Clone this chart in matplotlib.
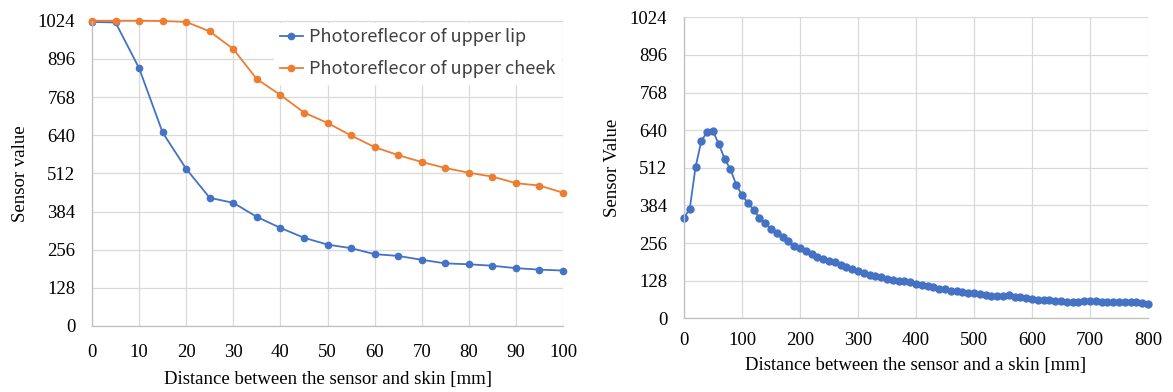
import matplotlib
matplotlib.use("Agg")
import matplotlib.pyplot as plt

# ---------------------------------------------------------------------------
# Data
# ---------------------------------------------------------------------------

dist_left = [0, 5, 10, 15, 20, 25, 30, 35, 40, 45, 50,
             55, 60, 65, 70, 75, 80, 85, 90, 95, 100]
upper_lip = [1020, 1018, 865, 649, 527, 430, 413, 366, 329, 296, 273,
             261, 241, 235, 222, 210, 207, 202, 194, 189, 186]
upper_cheek = [1024, 1024, 1024, 1023, 1020, 988, 929, 828, 775, 716, 681,
               639, 600, 573, 550, 530, 514, 501, 479, 471, 447]

dist_right = list(range(0, 801, 10))
sensor_right = [342, 373, 515, 604, 634, 636, 593, 543, 507, 455,
                419, 393, 369, 342, 323, 305, 289, 275, 263, 246,
                239, 229, 219, 207, 202, 195, 191, 180, 176, 167,
                160, 153, 147, 144, 139, 134, 130, 128, 126, 123,
                116, 114, 110, 105, 101, 100, 94, 93, 90, 86,
                85, 83, 79, 77, 76, 76, 79, 74, 71, 68,
                65, 62, 62, 61, 60, 58, 56, 56, 57, 59,
                60, 58, 56, 56, 54, 56, 57, 56, 56, 53,
                50]

y_ticks = [0, 128, 256, 384, 512, 640, 768, 896, 1024]

BLUE = "#4472C4"
ORANGE = "#ED7D31"
GRID = "#D9D9D9"
SERIF = "Liberation Serif"
SANS = ["Noto Sans CJK JP", "DejaVu Sans"]


def _style(ax, xlim, xticks, ylabel, xlabel, xpad, xlabelpad):
    ax.set_xlim(*xlim)
    ax.set_ylim(0, 1024)
    ax.set_xticks(xticks)
    ax.set_yticks(y_ticks)
    ax.grid(True, color=GRID, linewidth=0.9)
    ax.set_axisbelow(True)
    for side, spine in ax.spines.items():
        spine.set_visible(side in ("left", "bottom"))
        spine.set_color("#BFBFBF")
        spine.set_linewidth(0.9)
    ax.tick_params(length=0, labelsize=13.5, colors="black")
    ax.tick_params(axis="y", pad=12)
    ax.tick_params(axis="x", pad=xpad)
    for lab in ax.get_xticklabels() + ax.get_yticklabels():
        lab.set_fontfamily(SERIF)
    ax.set_xlabel(xlabel, fontfamily=SERIF, fontsize=13.5, labelpad=xlabelpad)
    ax.set_ylabel(ylabel, fontfamily=SERIF, fontsize=13.5, labelpad=6)


fig = plt.figure(figsize=(11.73, 3.92), dpi=100)

# left chart
ax1 = fig.add_axes([0.0784, 0.1684, 0.4016, 0.7788])
ax1.plot(dist_left, upper_lip, color=BLUE, marker="o", markersize=4.5,
         linewidth=1.3, label="Photoreflecor of upper lip", clip_on=False)
ax1.plot(dist_left, upper_cheek, color=ORANGE, marker="o", markersize=4.5,
         linewidth=1.3, label="Photoreflecor of upper cheek", clip_on=False)
_style(ax1, (0, 100), list(range(0, 101, 10)), "Sensor value",
       "Distance between the sensor and skin [mm]", xpad=13, xlabelpad=7.5)
leg = ax1.legend(loc="upper right", bbox_to_anchor=(1.0, 1.0), frameon=True,
                 fancybox=False, edgecolor="white", framealpha=1.0,
                 prop={"family": SANS, "size": 13}, handlelength=1.3,
                 handletextpad=0.35, borderpad=0.3, labelspacing=0.8,
                 borderaxespad=0.1)
for text in leg.get_texts():
    text.set_color("#404040")

# right chart
ax2 = fig.add_axes([0.5831, 0.188, 0.3956, 0.7679])
ax2.plot(dist_right, sensor_right, color=BLUE, marker="o", markersize=5,
         linewidth=1.3, clip_on=False)
_style(ax2, (0, 800), list(range(0, 801, 100)), "Sensor Value",
       "Distance between the sensor and a skin [mm]", xpad=10, xlabelpad=5.5)

fig.savefig("out.png", dpi=100, facecolor="white")
